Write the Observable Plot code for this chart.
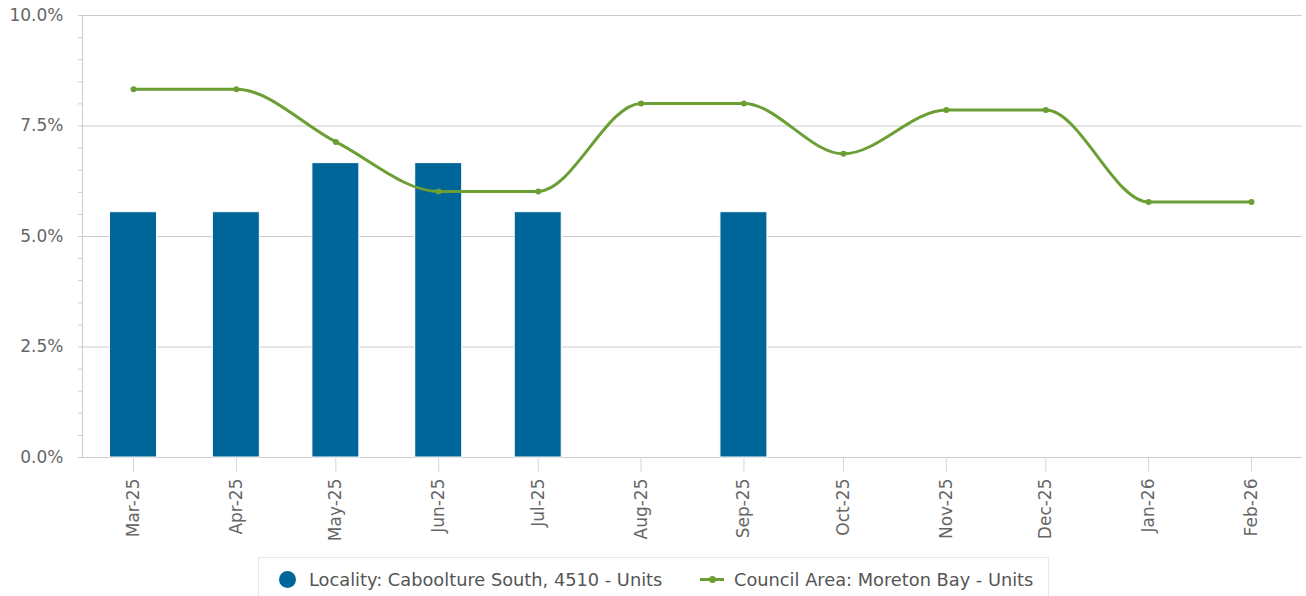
<!DOCTYPE html>
<html>
<head>
<meta charset="utf-8">
<script src="https://cdn.jsdelivr.net/npm/d3@7"></script>
<script src="https://cdn.jsdelivr.net/npm/@observablehq/plot@0.6"></script>
<style>
  html, body { margin: 0; padding: 0; background: #fff; }
  #wrap { position: relative; width: 1306px; height: 596px; overflow: hidden; font-family: "DejaVu Sans", sans-serif; }
  #legend { position: absolute; left: 258px; top: 557px; width: 791px; height: 50px; border: 1px solid #e8e8e8; box-sizing: border-box; font-size: 17.8px; color: #555; }
  .item { position: absolute; top: 11px; display: flex; align-items: center; white-space: nowrap; }
  .dot { width: 17px; height: 17px; border-radius: 50%; background: #006699; margin-right: 13px; }
  .ln { position: relative; width: 24px; height: 3px; background: #6b9e35; margin-right: 10px; }
  .ln::after { content: ""; position: absolute; left: 9px; top: -2px; width: 7px; height: 7px; border-radius: 50%; background: #6b9e35; }
</style>
</head>
<body>
<div id="wrap">
  <div id="chart"></div>
  <div id="legend">
    <div class="item" style="left:20px"><span class="dot"></span><span>Locality: Caboolture South, 4510 - Units</span></div>
    <div class="item" style="left:441px"><span class="ln"></span><span>Council Area: Moreton Bay - Units</span></div>
  </div>
</div>
<script>
const months = ["2025-03-01","2025-04-01","2025-05-01","2025-06-01","2025-07-01","2025-08-01","2025-09-01","2025-10-01","2025-11-01","2025-12-01","2026-01-01","2026-02-01"];
const localityValues = [5.55, 5.55, 6.66, 6.66, 5.55, null, 5.55, null, null, null, null, null];
const councilValues = [8.33, 8.33, 7.14, 6.02, 6.02, 8.01, 8.01, 6.87, 7.86, 7.86, 5.78, 5.78];
const yTicks = [0, 2.5, 5, 7.5, 10];
const yMinorTicks = [0.5,1,1.5,2,3,3.5,4,4.5,5.5,6,6.5,7,8,8.5,9,9.5];

const parse = d3.utcParse("%Y-%m-%d");
const dates = months.map(parse);
const DAY = 864e5;
const halfBar = 7.08 * DAY;

const bars = dates.map((d, i) => ({date: d, value: localityValues[i]})).filter(d => d.value != null);
const line = dates.map((d, i) => ({date: d, value: councilValues[i]}));

const chart = Plot.plot({
  width: 1306,
  height: 552,
  marginTop: 15,
  marginBottom: 95,
  marginLeft: 82,
  marginRight: 4,
  style: {fontFamily: "DejaVu Sans, sans-serif", fontSize: "17px", color: "#666", background: "transparent"},
  x: {type: "utc", domain: [new Date(Date.UTC(2025,1,13,15)), new Date(Date.UTC(2026,1,16,9))]},
  y: {domain: [0, 10]},
  marks: [
    Plot.gridY(yTicks, {stroke: "#cccccc", strokeOpacity: 1, strokeWidth: 1}),
    Plot.frame({anchor: "left", stroke: "#cccccc"}),
    Plot.axisY(yMinorTicks, {tickSize: 4, stroke: "#cccccc", text: null, label: null}),
    Plot.axisY(yTicks, {tickSize: 4, stroke: "#cccccc", tickPadding: 15, tickFormat: d => d.toFixed(1) + "%", label: null, fill: "#666", fontSize: 17}),
    Plot.axisX(dates, {tickSize: 15, stroke: "#ccd6eb", tickPadding: 6, tickRotate: -90, tickFormat: d3.utcFormat("%b-%y"), label: null, fill: "#666", fontSize: 17}),
    Plot.rectY(bars, {x1: d => new Date(+d.date - halfBar), x2: d => new Date(+d.date + halfBar), y1: 0, y2: "value", fill: "#006699", stroke: "#ffffff", strokeWidth: 1}),
    Plot.line(line, {x: "date", y: "value", stroke: "#6b9e35", strokeWidth: 3, curve: "monotone-x"}),
    Plot.dot(line, {x: "date", y: "value", fill: "#6b9e35", r: 3})
  ]
});
document.getElementById("chart").appendChild(chart);
</script>
</body>
</html>
